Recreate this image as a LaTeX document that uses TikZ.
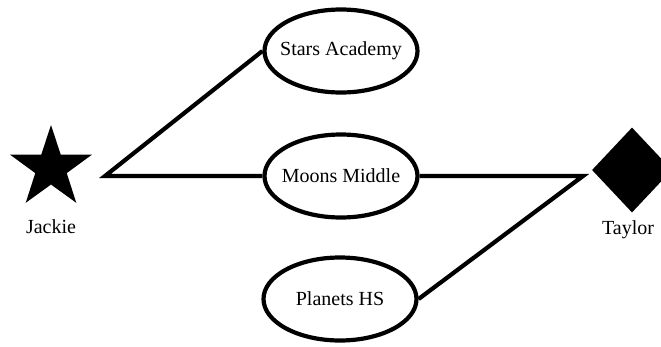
\documentclass[tikz,border=0pt]{standalone}
\usepackage{fontspec}
\setmainfont{Liberation Serif}
\usetikzlibrary{shapes.geometric, positioning}

\begin{document}
\begin{tikzpicture}[x=1pt, y=-1pt,
    school/.style={draw, ellipse, line width=4.2pt, minimum width=153pt, minimum height=83pt, inner xsep=-8pt, inner ysep=0pt, font=\fontsize{20}{24}\selectfont},
    person/.style={font=\fontsize{20}{24}\selectfont},
    link/.style={line width=4.2pt}]
  \useasboundingbox (0,0) rectangle (661,346);

  % people
  \node[star, star points=5, star point ratio=2.6, fill=black, minimum size=86pt, inner sep=0pt] (jackie) at (51,168) {};
  \node[person] (jackieName) at (51,227) {Jackie};
  \node[diamond, fill=black, minimum width=80pt, minimum height=85pt, inner sep=0pt] (taylor) at (632,170) {};
  \node[person] (taylorName) at (628,230) {Taylor};

  % schools
  \node[school] (stars) at (341,51) {Stars Academy};
  \node[school] (moons) at (341,176) {Moons Middle};
  \node[school] (planets) at (340,299) {Planets HS};

  \coordinate (jackieJoin) at (105,176);
  \coordinate (taylorJoin) at (583,176);

  \draw[link] (stars.west) -- (jackieJoin) -- (moons.west);
  \draw[link] (moons.east) -- (taylorJoin) -- (planets.east);
\end{tikzpicture}
\end{document}
